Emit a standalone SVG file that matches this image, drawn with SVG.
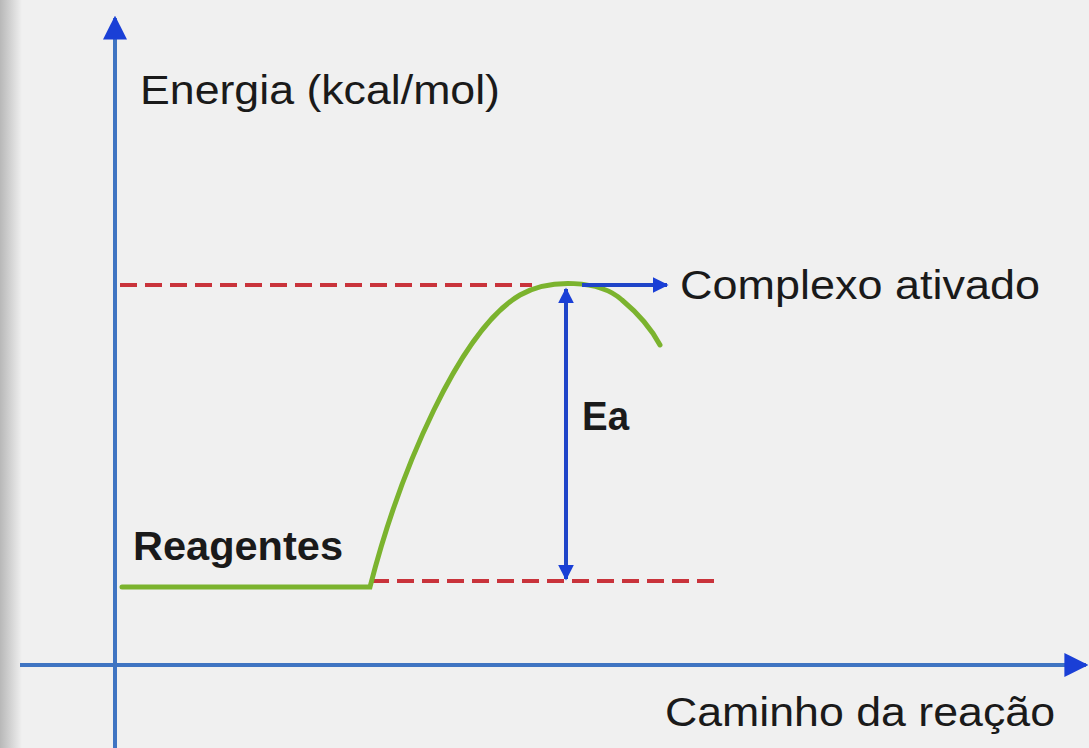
<svg xmlns="http://www.w3.org/2000/svg" width="1089" height="748" viewBox="0 0 1089 748">
<defs>
<linearGradient id="edge" x1="0" x2="1" y1="0" y2="0">
<stop offset="0" stop-color="#b8b8b8"/>
<stop offset="0.5" stop-color="#d4d4d4"/>
<stop offset="1" stop-color="#f0f0f0"/>
</linearGradient>
<marker id="ah" viewBox="0 0 10 10" refX="9" refY="5" markerWidth="6" markerHeight="6" orient="auto-start-reverse" markerUnits="strokeWidth">
<path d="M0,0 L10,5 L0,10 Z" fill="#1a3fd6"/>
</marker>
<marker id="ahs" viewBox="0 0 10 10" refX="9" refY="5" markerWidth="4" markerHeight="4" orient="auto-start-reverse" markerUnits="strokeWidth">
<path d="M0,0 L10,5 L0,10 Z" fill="#1a3fd6"/>
</marker>
</defs>
<style>
.axis{stroke:#3f74c2;stroke-width:4;fill:none}
.dash{stroke:#c9333b;stroke-width:4;stroke-dasharray:17 8;fill:none}
.curve{stroke:#7bb32e;stroke-width:5;fill:none;stroke-linecap:round}
.arr{stroke:#1f44c8;stroke-width:4;fill:none}
.t{font-family:"Liberation Sans",Arial,sans-serif;fill:#1a1a1a}
.b{font-weight:bold}
</style>
<rect width="1089" height="748" fill="#f0f0f0"/>
<rect width="22" height="748" fill="url(#edge)"/>
<g id="axes">
<line class="axis" x1="115" y1="748" x2="115" y2="18" marker-end="url(#ah)"/>
<line class="axis" x1="20" y1="665" x2="1086" y2="665" marker-end="url(#ah)"/>
</g>
<g id="levels">
<line class="dash" x1="120" y1="285" x2="532" y2="285"/>
<line class="dash" x1="372" y1="581" x2="720" y2="581"/>
</g>
<g id="curve">
<path class="curve" d="M122,587 L370,587 C400,470 460,330 520,295 C550,278 600,280 622,300 C640,315 652,330 660,345"/>
</g>
<g id="connectors">
<line class="arr" x1="582" y1="285" x2="667" y2="285" marker-end="url(#ahs)"/>
<line class="arr" x1="566" y1="289" x2="566" y2="579" marker-start="url(#ahs)" marker-end="url(#ahs)"/>
</g>
<g id="labels">
<text class="t" x="140" y="104" font-size="41" textLength="360" lengthAdjust="spacingAndGlyphs">Energia (kcal/mol)</text>
<text class="t" x="680" y="299" font-size="41" textLength="360" lengthAdjust="spacingAndGlyphs">Complexo ativado</text>
<text class="t b" x="582" y="430" font-size="41" textLength="47" lengthAdjust="spacingAndGlyphs">Ea</text>
<text class="t b" x="133" y="560" font-size="41" textLength="210" lengthAdjust="spacingAndGlyphs">Reagentes</text>
<text class="t" x="665" y="726" font-size="41" textLength="390" lengthAdjust="spacingAndGlyphs">Caminho da reação</text>
</g>
</svg>
